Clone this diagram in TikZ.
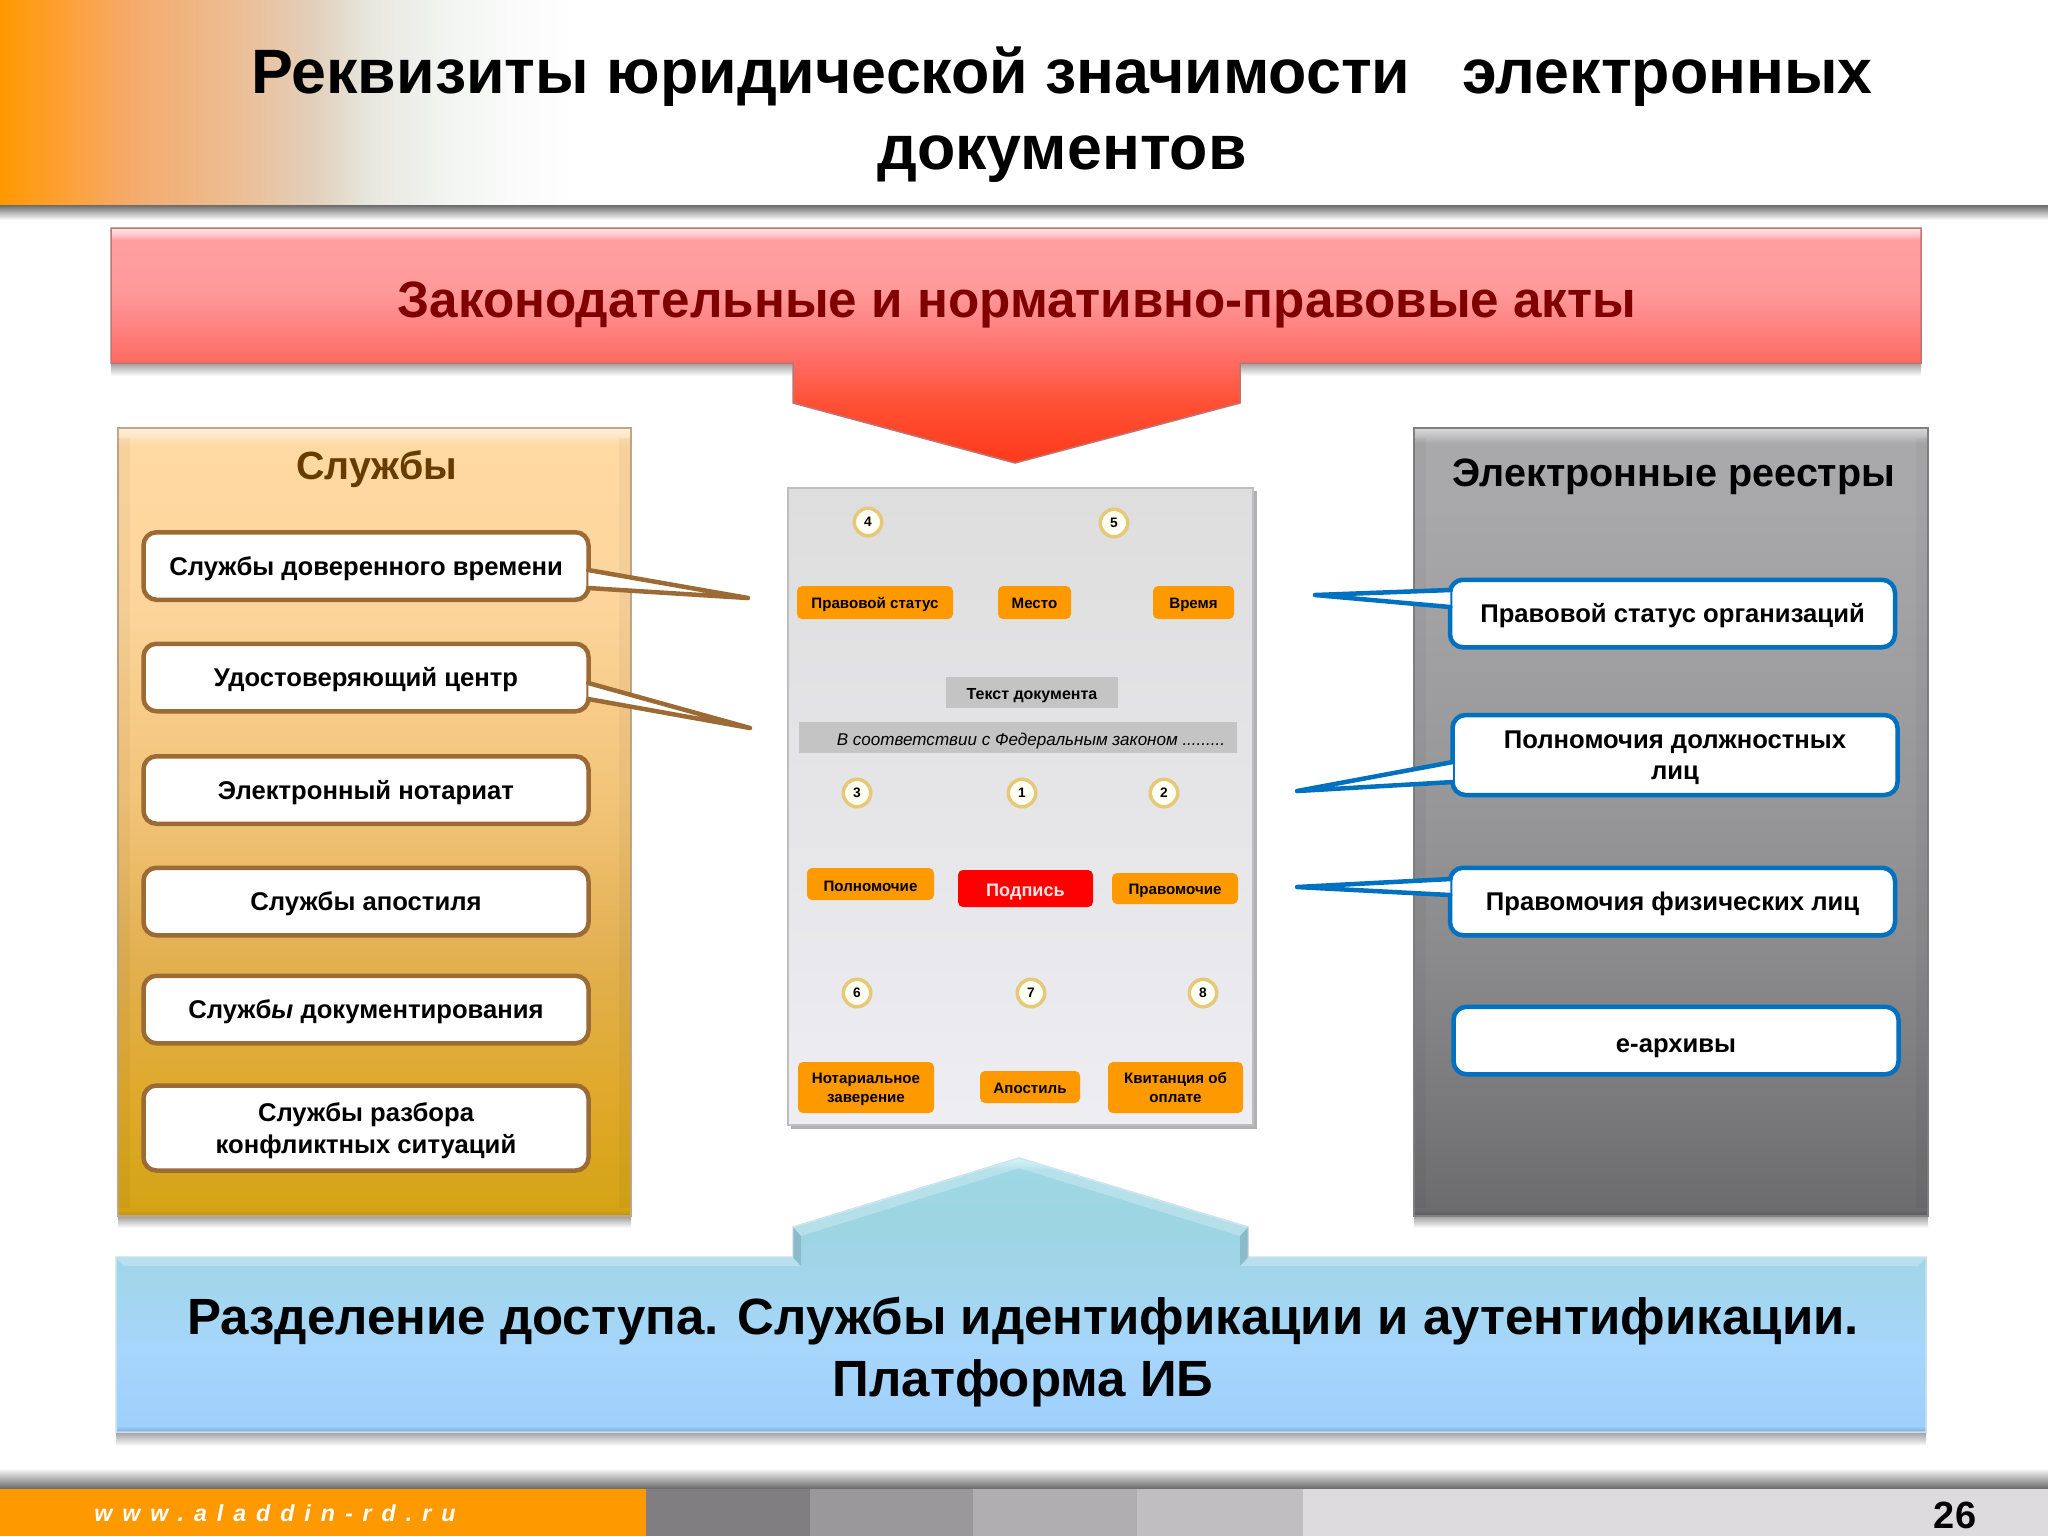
\documentclass[tikz,border=0pt]{standalone}
\usepackage{fontspec}
\setmainfont{Liberation Sans}
\usetikzlibrary{calc}
\definecolor{brandorange}{HTML}{FF9900}
\definecolor{lawtext}{HTML}{800000}
\definecolor{srvtitle}{HTML}{663C00}
\definecolor{srvline}{HTML}{9B6A35}
\definecolor{regline}{HTML}{0070C0}
\definecolor{docline}{HTML}{BEBEC2}
\definecolor{numline}{HTML}{E5C878}
\definecolor{numfill}{HTML}{FFFFF4}
\definecolor{foota}{HTML}{807E80}
\definecolor{footb}{HTML}{9A989A}
\definecolor{footc}{HTML}{B0AEB0}
\definecolor{footd}{HTML}{C0BEC0}
\definecolor{foote}{HTML}{DDDBDD}
\pgfdeclarehorizontalshading{headshade}{100bp}{color(0bp)=(brandorange); color(25bp)=(brandorange);
	rgb(26.4bp)=(1,.624,.188); rgb(28.1bp)=(.961,.667,.416); rgb(30.6bp)=(.929,.737,.565);
	rgb(32.7bp)=(.886,.816,.737); rgb(34.1bp)=(.91,.91,.878); rgb(36.2bp)=(.957,.965,.957);
	color(39bp)=(white); color(100bp)=(white)}
\pgfdeclareverticalshading{lawshade}{100bp}{rgb(0bp)=(1,.227,.102); rgb(25bp)=(1,.227,.102);
	rgb(37.8bp)=(1,.314,.208); rgb(46.3bp)=(1,.416,.376); rgb(53.3bp)=(1,.502,.502);
	rgb(61.8bp)=(1,.604,.604); rgb(72.4bp)=(1,.616,.627); rgb(73.7bp)=(1,.784,.8);
	rgb(75bp)=(1,.91,.918); rgb(100bp)=(1,.91,.918)}
\pgfdeclareverticalshading{accshade}{100bp}{rgb(0bp)=(.478,.659,.812); rgb(25bp)=(.478,.659,.812);
	rgb(26.1bp)=(.624,.816,.988); rgb(40bp)=(.651,.839,.988); rgb(49bp)=(.639,.839,.941);
	rgb(62.4bp)=(.616,.835,.886); rgb(72.8bp)=(.62,.847,.894); rgb(74.6bp)=(.753,.933,.941);
	rgb(75bp)=(.85,.95,.95); rgb(100bp)=(.85,.95,.95)}
\pgfdeclareverticalshading{srvshade}{100bp}{rgb(0bp)=(.722,.565,.102); rgb(25bp)=(.722,.565,.102);
	rgb(25.4bp)=(.831,.643,.082); rgb(32.4bp)=(.875,.663,.165); rgb(41.2bp)=(.886,.69,.314);
	rgb(51.4bp)=(.949,.769,.471); rgb(64bp)=(.992,.835,.612); rgb(73.9bp)=(1,.851,.635);
	rgb(75bp)=(1,.941,.878); rgb(100bp)=(1,.941,.878)}
\pgfdeclareverticalshading{regshade}{100bp}{rgb(0bp)=(.35,.35,.36); rgb(25bp)=(.35,.35,.36);
	rgb(25.4bp)=(.424,.42,.427); rgb(32.4bp)=(.478,.475,.482); rgb(41.2bp)=(.541,.537,.545);
	rgb(51.4bp)=(.592,.592,.6); rgb(70bp)=(.659,.655,.667); rgb(74bp)=(.663,.663,.671);
	rgb(75bp)=(.85,.85,.85); rgb(100bp)=(.85,.85,.85)}
\tikzset{%
	srvmulti/.style={draw=srvline, fill=white, line width=0.45mm, rounded corners=1.3mm,
		minimum width=44.5mm, minimum height=6.75mm, inner sep=0mm, align=center, text depth=0pt,
		font=\bfseries\fontsize{7.3}{8.9}\selectfont},
	srv/.style={srvmulti, text height=1.8mm},
	regmulti/.style={srvmulti, draw=regline},
	reg/.style={srv, draw=regline},
	srvtail/.style={draw=srvline, fill=white, line width=0.45mm, line join=round, line cap=round},
	regtail/.style={srvtail, draw=regline},
	downshadow/.style={top color=black!38, bottom color=white, draw=none},
	upshadow/.style={top color=white, bottom color=black!60, draw=none},
	sidestrip/.style={black, opacity=0.035},
	gloss/.style={white, opacity=0.25},
	tagmulti/.style={fill=brandorange, rounded corners=0.5mm, inner sep=0mm, align=center, text depth=0pt,
		font=\bfseries\fontsize{4.3}{5.3}\selectfont},
	tag/.style={tagmulti, text height=1.1mm},
	greytag/.style={fill=black!23, inner sep=0mm, text depth=0pt},
	numb/.style={circle, draw=numline, fill=numfill, line width=0.35mm,
		minimum size=2.75mm, inner sep=0mm, font=\bfseries\fontsize{3.9}{4.5}\selectfont}
}
\begin{document}
\begin{tikzpicture}[x=0.1mm, y=-0.1mm]
	\useasboundingbox (0,0) rectangle (2048,1536);
	\fill[white] (0,0) rectangle (2048,1536);

	% header
	\shade[shading=headshade] (0,0) rectangle (2048,205);
	\shade[downshadow, top color=black!58] (0,205) rectangle (2048,220);
	\node[font=\bfseries\fontsize{17.85}{21.5}\selectfont, align=center] (title) at (1062,114.5)
		{Реквизиты юридической значимости\ \ \ электронных\\документов};

	% top bar with its arrow
	\shade[downshadow] (111,363) rectangle (1921,376);
	\shade[shading=lawshade, draw=red!55!black!55, line width=0.15mm] (111,228) -- (1921,228) -- (1921,363)
		-- (1240,363) -- (1240,403) -- (1015,463) -- (793,403) -- (793,363) -- (111,363) -- cycle;
	\node[text=lawtext, font=\bfseries\fontsize{14.56}{18}\selectfont] (law) at (1017,305)
		{Законодательные и нормативно-правовые акты};

	% left panel
	\shade[downshadow] (118,1216) rectangle (631,1228);
	\shade[shading=srvshade, draw=srvline!60, line width=0.15mm] (118,428) rectangle (631,1216);
	\fill[sidestrip] (118,438) rectangle (130,1208);
	\fill[sidestrip] (619,438) rectangle (631,1208);
	\node[text=srvtitle, font=\bfseries\fontsize{11.2}{14}\selectfont] (srvhead) at (377,469) {Службы};
	\node[srv] (srv1) at (366,566) {Службы доверенного времени};
	\node[srv] (srv2) at (366,677.5) {Удостоверяющий центр};
	\node[srv] (srv3) at (366,790) {Электронный нотариат};
	\node[srv] (srv4) at (366,901.5) {Службы апостиля};
	\node[srv] (srv5) at (366,1009.5) {Служб\textit{ы} документирования};
	\node[srvmulti, minimum height=8.5mm] (srv6) at (366,1128) {Службы разбора\\конфликтных ситуаций};

	\coordinate (srv1tip) at (748,598);
	\coordinate (srv2tip) at (750,728);
	\draw[srvtail] ($(srv1.east)+(-2.5,4)$) -- (srv1tip) -- ($(srv1.east)+(-2.5,22)$);
	\draw[srvtail] ($(srv2.east)+(-2.5,5.5)$) -- (srv2tip) -- ($(srv2.east)+(-2.5,21.5)$);

	% right panel
	\shade[downshadow] (1414,1216) rectangle (1928,1228);
	\shade[shading=regshade, draw=black!50, line width=0.15mm] (1414,428) rectangle (1928,1216);
	\fill[sidestrip] (1414,438) rectangle (1426,1208);
	\fill[sidestrip] (1916,438) rectangle (1928,1208);
	\node[font=\bfseries\fontsize{11.25}{14}\selectfont] (reghead) at (1674,477) {Электронные реестры};
	\node[reg] (reg1) at (1672.5,613.5) {Правовой статус организаций};
	\node[regmulti, minimum height=8mm] (reg2) at (1675,755) {Полномочия должностных\\лиц};
	\node[reg] (reg3) at (1672.5,901.5) {Правомочия физических лиц};
	\node[reg, text height=2.3mm] (reg4) at (1676,1040.5) {е-архивы};

	\coordinate (reg1tip) at (1315,595);
	\coordinate (reg2tip) at (1297,791);
	\coordinate (reg3tip) at (1297,887);
	\draw[regtail] ($(reg1.west)+(2.5,-23.5)$) -- (reg1tip) -- ($(reg1.west)+(2.5,-6.5)$);
	\draw[regtail] ($(reg2.west)+(2.5,7)$) -- (reg2tip) -- ($(reg2.west)+(2.5,27)$);
	\draw[regtail] ($(reg3.west)+(2.5,-22.5)$) -- (reg3tip) -- ($(reg3.west)+(2.5,-6.5)$);

	% document in the middle
	\node[minimum width=46.5mm, minimum height=63.7mm, inner sep=0mm, top color=black!13,
		bottom color=blue!30!black!7, draw=docline, line width=0.15mm] (doc) at (1020.5,806.5) {};
	\draw[draw=black!30, line width=0.3mm] ($(doc.north east)+(2,4)$) -- ($(doc.south east)+(2,2)$) -- ($(doc.south west)+(4,2)$);

	\node[numb] (n4) at (868,522) {4};
	\node[numb] (n5) at (1114,523) {5};
	\node[tag, minimum width=15.6mm, minimum height=3.3mm] (status) at (875,602.5) {Правовой статус};
	\node[tag, minimum width=7.3mm, minimum height=3.3mm] (place) at (1034.5,602.5) {Место};
	\node[tag, minimum width=8.1mm, minimum height=3.3mm] (time) at (1193.5,602.5) {Время};
	\node[greytag, minimum width=17.2mm, minimum height=3.1mm, text height=1.3mm, font=\bfseries\fontsize{4.55}{5}\selectfont] (doctext) at (1032,692.5) {Текст документа};
	\node[greytag, minimum width=43.8mm, minimum height=3.1mm, text height=1.5mm, font=\itshape\fontsize{4.85}{5}\selectfont] (lawref) at (1018,737.5) {\hspace*{2.6mm}В соответствии с Федеральным законом .........};
	\node[numb] (n3) at (857,793) {3};
	\node[numb] (n1) at (1022,793) {1};
	\node[numb] (n2) at (1164,793) {2};
	\node[tag, minimum width=12.7mm, minimum height=3.2mm, text height=1.4mm] (power) at (870.5,884) {Полномочие};
	\node[tag, fill=red, text=white!90!red, minimum width=13.5mm, minimum height=3.7mm, text height=1.5mm, font=\bfseries\fontsize{5.15}{6}\selectfont] (sign) at (1025.5,888.5) {Подпись};
	\node[tag, minimum width=12.6mm, minimum height=3.1mm] (right) at (1175,888.5) {Правомочие};
	\node[numb] (n6) at (857,993) {6};
	\node[numb] (n7) at (1031,993) {7};
	\node[numb] (n8) at (1203,993) {8};
	\node[tagmulti, minimum width=13.6mm, minimum height=5.1mm] (notary) at (866,1087.5) {Нотариальное\\заверение};
	\node[tag, minimum width=10mm, minimum height=3.2mm, text height=1.2mm] (apost) at (1030,1087) {Апостиль};
	\node[tagmulti, minimum width=13.5mm, minimum height=5.1mm] (receipt) at (1175.5,1087.5) {Квитанция об\\оплате};

	% bottom bar with its arrow
	\shade[downshadow] (116,1432) rectangle (1926,1446);
	\shade[shading=accshade, draw=black!30!cyan!25, line width=0.15mm] (116,1257) -- (793,1257) -- (793,1227)
		-- (1019,1158) -- (1248,1227) -- (1248,1257) -- (1926,1257) -- (1926,1432) -- (116,1432) -- cycle;
	\fill[gloss] (116,1258) -- (793,1258) -- (801,1266) -- (124,1266) -- cycle;
	\fill[gloss] (1248,1258) -- (1926,1258) -- (1918,1266) -- (1240,1266) -- cycle;
	\fill[gloss] (793,1227) -- (1019,1158) -- (1248,1227) -- (1240,1236) -- (1019,1168) -- (801,1236) -- cycle;
	\fill[black, opacity=0.12] (793,1227) -- (801,1236) -- (801,1266) -- (793,1257) -- cycle;
	\fill[black, opacity=0.12] (1248,1227) -- (1240,1236) -- (1240,1266) -- (1248,1257) -- cycle;
	\node[font=\bfseries\fontsize{14.5}{17.6}\selectfont, align=center] (access) at (1023,1352)
		{Разделение доступа. Службы идентификации и аутентификации.\\Платформа ИБ};

	% footer
	\shade[upshadow] (0,1468) rectangle (2048,1489);
	\fill[brandorange] (0,1489) rectangle (646,1536);
	\fill[foota] (646,1489) rectangle (810,1536);
	\fill[footb] (810,1489) rectangle (973,1536);
	\fill[footc] (973,1489) rectangle (1137,1536);
	\fill[footd] (1137,1489) rectangle (1303,1536);
	\fill[foote] (1303,1489) rectangle (2048,1536);
	\node[text=white, anchor=west, font=\bfseries\itshape\fontsize{6.6}{8}\selectfont\addfontfeatures{LetterSpace=43}] (site) at (82,1513) {www.aladdin-rd.ru};
	\node[font=\bfseries\fontsize{10.8}{13}\selectfont] (page) at (1955,1515) {26};
\end{tikzpicture}
\end{document}
